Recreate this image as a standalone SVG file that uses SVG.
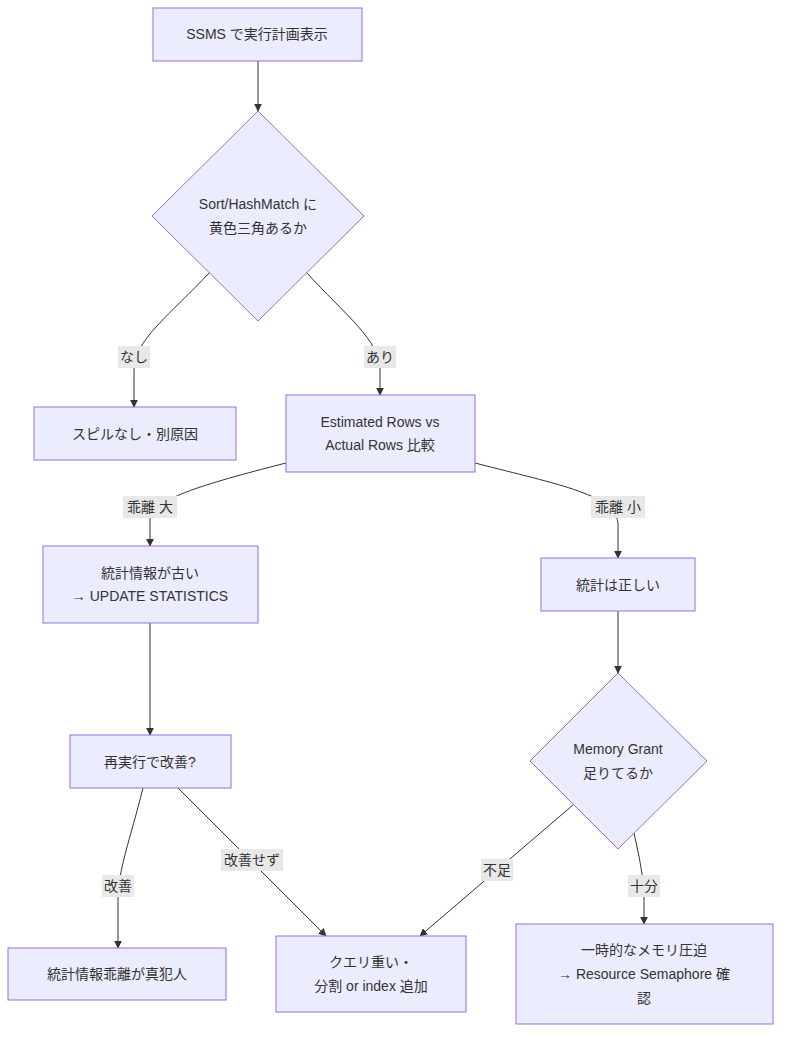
<svg xmlns="http://www.w3.org/2000/svg" width="789" height="1043" viewBox="0 0 789 1043">
<style>
.n{fill:#ECECFF;stroke:#9370DB;stroke-width:1}
text{font-family:"Liberation Sans","Noto Sans CJK JP",sans-serif;font-size:14px;fill:#333;text-anchor:middle;dominant-baseline:central}
.e{fill:none;stroke:#333;stroke-width:1;marker-end:url(#ah)}
.lb{fill:#e8e8e8}
</style>
<defs><marker id="ah" viewBox="0 0 10 10" refX="9" refY="5" markerWidth="8" markerHeight="8" orient="auto"><path d="M0,0L10,5L0,10z" fill="#333"/></marker></defs>
<rect width="789" height="1043" fill="#fff"/>
<g id="edges">
<path class="e" d="M258,61V111"/>
<path class="e" d="M210,272C170,315 134,340 134,370V407"/>
<path class="e" d="M306,272C345,315 380,340 380,370V395"/>
<path class="e" d="M286,463C200,485 150,500 150,520V546"/>
<path class="e" d="M475,463C560,485 618,495 618,525V558"/>
<path class="e" d="M150,623V735"/>
<path class="e" d="M618,611V673"/>
<path class="e" d="M143,788C130,840 118,870 118,900V948"/>
<path class="e" d="M178,788L326,936"/>
<path class="e" d="M573,805L420,936"/>
<path class="e" d="M634,833C640,860 644,880 644,900V924"/>
<rect class="lb" x="118" y="346" width="32" height="22"/><text x="134" y="357">なし</text>
<rect class="lb" x="364" y="346" width="32" height="22"/><text x="380" y="357">あり</text>
<rect class="lb" x="123" y="496" width="54" height="22"/><text x="150" y="507">乖離 大</text>
<rect class="lb" x="591" y="496" width="54" height="22"/><text x="618" y="507">乖離 小</text>
<rect class="lb" x="102" y="875" width="32" height="22"/><text x="118" y="886">改善</text>
<rect class="lb" x="221" y="849" width="62" height="22"/><text x="252" y="860">改善せず</text>
<rect class="lb" x="481" y="859" width="32" height="22"/><text x="497" y="870">不足</text>
<rect class="lb" x="628" y="875" width="32" height="22"/><text x="644" y="886">十分</text>
</g>
<g id="A"><rect class="n" x="153" y="8" width="209" height="53"/><text x="257" y="34">SSMS で実行計画表示</text></g>
<g id="B"><polygon class="n" points="258,111 364,216 258,321 152,216"/><text x="258" y="204">Sort/HashMatch に</text><text x="258" y="228">黄色三角あるか</text></g>
<g id="C"><rect class="n" x="34" y="407" width="202" height="53"/><text x="135" y="434">スピルなし・別原因</text></g>
<g id="D"><rect class="n" x="286" y="395" width="189" height="77"/><text x="380" y="422">Estimated Rows vs</text><text x="380" y="445">Actual Rows 比較</text></g>
<g id="E"><rect class="n" x="43" y="546" width="215" height="77"/><text x="150" y="573">統計情報が古い</text><text x="150" y="596">→ UPDATE STATISTICS</text></g>
<g id="F"><rect class="n" x="541" y="558" width="154" height="53"/><text x="618" y="585">統計は正しい</text></g>
<g id="G"><rect class="n" x="70" y="735" width="161" height="53"/><text x="150" y="762">再実行で改善?</text></g>
<g id="H"><polygon class="n" points="618,673 707,761 618,849 530,761"/><text x="618" y="749">Memory Grant</text><text x="618" y="773">足りてるか</text></g>
<g id="I"><rect class="n" x="8" y="948" width="218" height="52"/><text x="117" y="974">統計情報乖離が真犯人</text></g>
<g id="J"><rect class="n" x="276" y="936" width="190" height="76"/><text x="371" y="962">クエリ重い・</text><text x="371" y="986">分割 or index 追加</text></g>
<g id="K"><rect class="n" x="516" y="924" width="257" height="100"/><text x="644" y="950">一時的なメモリ圧迫</text><text x="644" y="974">→ Resource Semaphore 確</text><text x="644" y="998">認</text></g>
</svg>
